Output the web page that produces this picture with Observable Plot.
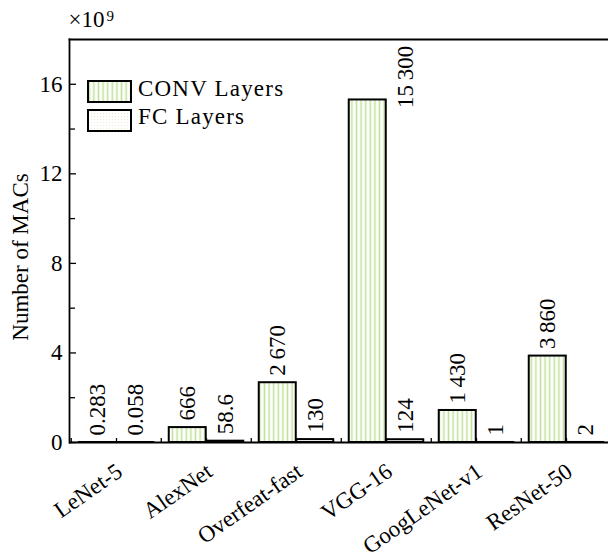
<!DOCTYPE html>
<html><head><meta charset="utf-8">
<script src="https://cdn.jsdelivr.net/npm/d3@7"></script>
<script src="https://cdn.jsdelivr.net/npm/@observablehq/plot@0.6"></script>
<style>
body{margin:0;background:#fff;}
#wrap{position:relative;width:608px;height:560px;overflow:hidden;background:#fff;}
#wrap, #wrap *, #wrap svg text {font-family:'Liberation Serif', serif !important;}
#legend{position:absolute;left:0;top:0;font-size:23px;}
.sw{position:absolute;}
.lt{position:absolute;line-height:23px;white-space:nowrap;letter-spacing:1.2px;}
</style></head><body><div id="wrap"></div>
<script>
// ---- data (MACs in millions) ----
const models = ["LeNet-5", "AlexNet", "Overfeat-fast", "VGG-16", "GoogLeNet-v1", "ResNet-50"];
const seriesNames = ["CONV Layers", "FC Layers"];
const convMACs = [0.283, 666, 2670, 15300, 1430, 3860];
const fcMACs = [0.058, 58.6, 130, 124, 1, 2];
const yMajorTicks = [0, 4, 8, 12, 16];
const yMinorTicks = [2, 6, 10, 14];
const yUnitBase = "×10";
const yUnitExp = "9";
const yTitle = "Number of MACs";

const rows = [];
models.forEach((m, i) => {
  rows.push({model: m, series: seriesNames[0], value: convMACs[i], y: convMACs[i] / 1000});
  rows.push({model: m, series: seriesNames[1], value: fcMACs[i], y: fcMACs[i] / 1000});
});
const conv = rows.filter(d => d.series === seriesNames[0]);
const fc = rows.filter(d => d.series === seriesNames[1]);
const yMax = 18;
const fmt = d3.formatLocale({decimal: ".", thousands: "\u2009", grouping: [3], currency: ["", ""]}).format(",");

const xRange = [69, 612];
const bw = (xRange[1] - xRange[0]) / models.length;
const barW = 37.5;
const font = "Liberation Serif";

const svg = Plot.plot({
  width: 608,
  height: 560,
  marginLeft: 69,
  marginRight: 0,
  marginTop: 39,
  marginBottom: 118,
  style: {fontFamily: font, fontSize: "23px", background: "white", color: "black"},
  x: {type: "band", domain: models, range: xRange, padding: 0, axis: null},
  y: {domain: [0, yMax], axis: null},
  marks: [
    Plot.barY(conv, {x: "model", y: "y", fill: "url(#convPat)", stroke: "black", strokeWidth: 2,
      insetLeft: bw / 2 - barW, insetRight: bw / 2}),
    Plot.barY(fc, {x: "model", y: "y", fill: "url(#fcPat)", stroke: "black", strokeWidth: 2,
      insetLeft: bw / 2, insetRight: bw / 2 - barW}),
    Plot.ruleY([0], {strokeWidth: 1.8}),
    Plot.frame({anchor: "left", strokeWidth: 1.8}),
    Plot.frame({anchor: "top", strokeWidth: 1.8}),
    Plot.axisY({ticks: yMajorTicks, tickSize: -7, tickPadding: 14, fontSize: 23, fontFamily: font, label: null, strokeWidth: 1.3}),
    Plot.axisY({ticks: yMinorTicks, tickSize: -6, tickFormat: () => "", label: null, strokeWidth: 1.3}),
    Plot.axisX({tickSize: -4, tickFormat: () => "", label: null, strokeWidth: 1.3}),
    Plot.axisX({tickSize: -4, tickFormat: () => "", label: null, dx: -bw / 2, strokeWidth: 1.3}),
    // value labels
    Plot.text(conv.filter(d => d.y <= 14), {x: "model", y: "y", text: d => fmt(d.value), rotate: -90,
      textAnchor: "start", lineAnchor: "middle", dx: -barW / 2, dy: -7, fontSize: 23, fontFamily: font}),
    Plot.text(conv.filter(d => d.y > 14), {x: "model", y: "y", text: d => fmt(d.value), rotate: -90,
      textAnchor: "start", lineAnchor: "middle", dx: barW / 2, dy: 8, fontSize: 23, fontFamily: font}),
    Plot.text(fc, {x: "model", y: "y", text: d => fmt(d.value), rotate: -90,
      textAnchor: "start", lineAnchor: "middle", dx: barW / 2, dy: -7, fontSize: 23, fontFamily: font}),
    // x tick labels
    Plot.text(models, {x: d => d, frameAnchor: "bottom", rotate: -35, textAnchor: "end", lineAnchor: "top",
      dx: -2, dy: 19, fontSize: 23, fontFamily: font}),
    // y title
    Plot.text([yTitle], {frameAnchor: "left", rotate: -90, textAnchor: "middle", lineAnchor: "middle",
      dx: -49, dy: 16, fontSize: 23, fontFamily: font}),
    // unit ×10^9
    Plot.text([yUnitBase], {frameAnchor: "top-left", textAnchor: "start", lineAnchor: "middle",
      dx: -1, dy: -20, fontSize: 23, fontFamily: font}),
    Plot.text([yUnitExp], {frameAnchor: "top-left", textAnchor: "start", lineAnchor: "middle",
      dx: 37, dy: -23, fontSize: 15, fontFamily: font})
  ]
});

function addPatterns(sel) {
  const defs = sel.insert("defs", ":first-child");
  const p1 = defs.append("pattern").attr("id", "convPat").attr("patternUnits", "userSpaceOnUse")
    .attr("width", 4.6).attr("height", 8);
  p1.append("rect").attr("width", 4.6).attr("height", 8).attr("fill", "#fff");
  p1.append("rect").attr("x", 1.5).attr("width", 1.6).attr("height", 8).attr("fill", "#c2e29c");
  const p2 = defs.append("pattern").attr("id", "fcPat").attr("patternUnits", "userSpaceOnUse")
    .attr("width", 3).attr("height", 3);
  p2.append("rect").attr("width", 3).attr("height", 3).attr("fill", "#fff");
  p2.append("rect").attr("x", 1).attr("y", 1).attr("width", 1).attr("height", 1).attr("fill", "#f1e9cf");
}
addPatterns(d3.select(svg));

const wrap = document.getElementById("wrap");
wrap.appendChild(svg);

// legend
const legend = d3.select(wrap).append("div").attr("id", "legend");
const pats = ["url(#convPat)", "url(#fcPat)"];
seriesNames.forEach((name, i) => {
  const top = 80 + i * 28.5;
  const s = legend.append("svg").attr("class", "sw").attr("width", 45).attr("height", 24)
    .style("left", "87px").style("top", top + "px");
  s.append("rect").attr("x", 1).attr("y", 1).attr("width", 43).attr("height", 21)
    .attr("fill", pats[i]).attr("stroke", "black").attr("stroke-width", 2);
  legend.append("div").attr("class", "lt").style("left", "138px").style("top", (top - 3.5) + "px").text(name);
});
</script></body></html>
